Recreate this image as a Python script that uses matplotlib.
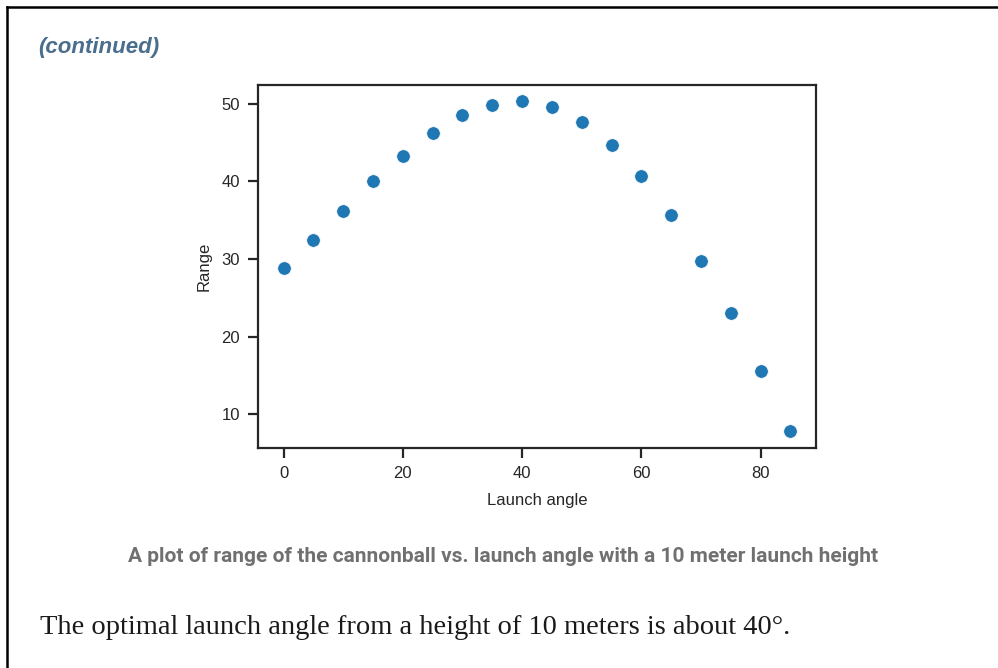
import matplotlib
matplotlib.use("Agg")
import matplotlib.pyplot as plt
from matplotlib.lines import Line2D

angles = [0, 5, 10, 15, 20, 25, 30, 35, 40, 45, 50, 55, 60, 65, 70, 75, 80, 85]
ranges = [28.8, 32.5, 36.2, 40.0, 43.3, 46.3, 48.5, 49.9, 50.3, 49.6,
          47.7, 44.7, 40.7, 35.7, 29.7, 23.0, 15.6, 7.8]
xticks = [0, 20, 40, 60, 80]
yticks = [10, 20, 30, 40, 50]

W, H = 998, 668
fig = plt.figure(figsize=(W / 100, H / 100), dpi=100)
fig.patch.set_facecolor("white")

dark = "#262626"
ax = fig.add_axes([258.3 / W, 1 - 447.7 / H, (815.7 - 258.3) / W, (447.7 - 85) / H])
ax.scatter(angles, ranges, s=95, color="#1f77b4", edgecolor="white", linewidth=0.5, zorder=3)
ax.set_xticks(xticks)
ax.set_yticks(yticks)
ax.margins(0.05)
for sp in ax.spines.values():
    sp.set_color(dark)
    sp.set_linewidth(1.6)
ax.tick_params(direction="out", length=7, width=1.6, color=dark, labelcolor=dark,
               labelsize=12, pad=6)
for lab in ax.get_xticklabels() + ax.get_yticklabels():
    lab.set_family(["Liberation Sans", "DejaVu Sans"])
ax.set_xlabel("Launch angle", fontsize=12, color=dark, family=["Liberation Sans", "DejaVu Sans"], labelpad=9)
ax.set_ylabel("Range", fontsize=12, color=dark, family=["Liberation Sans", "DejaVu Sans"], labelpad=7)

# page border (top and left)
fig.add_artist(Line2D([6.5 / W, 1.0], [1 - 7 / H, 1 - 7 / H], color="black", linewidth=1.8, transform=fig.transFigure))
fig.add_artist(Line2D([6.5 / W, 6.5 / W], [0, 1 - 7 / H], color="black", linewidth=1.8, transform=fig.transFigure))

fig.text(38 / W, 1 - 48 / H, "(continued)", fontsize=16, fontweight="bold", fontstyle="italic",
         color="#4a6e8c", family=["Liberation Sans", "DejaVu Sans"], ha="left", va="center")

fig.text(503 / W, 1 - 556 / H, "A plot of range of the cannonball vs. launch angle with a 10 meter launch height",
         fontsize=15, fontweight="bold", color="#707070",
         family=["Roboto", "DejaVu Sans"], ha="center", va="center")

fig.text(40 / W, 1 - 627 / H, "The optimal launch angle from a height of 10 meters is about 40°.",
         fontsize=20.5, color="#1a1a1a", family=["Liberation Serif", "DejaVu Serif"], ha="left", va="center")

fig.savefig("out.png", dpi=100, facecolor="white")
